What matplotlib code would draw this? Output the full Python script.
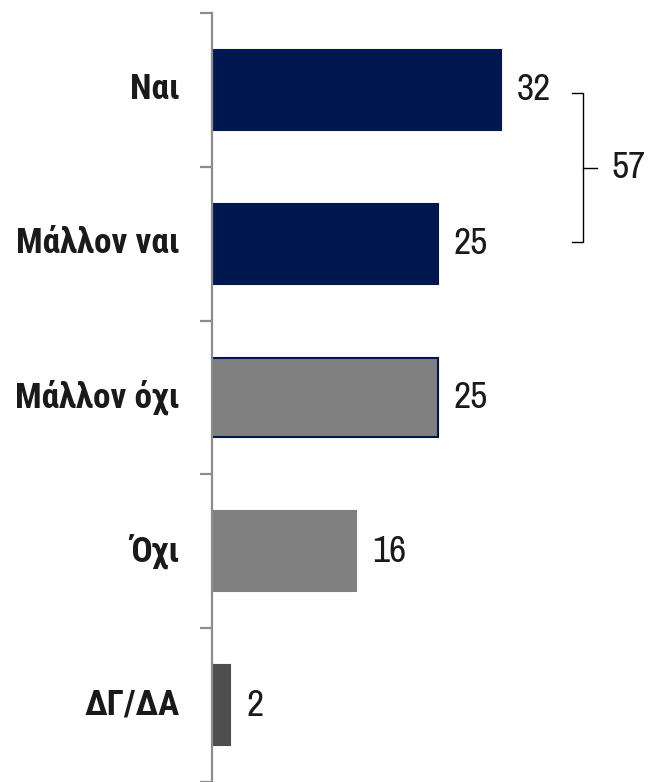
import matplotlib.pyplot as plt
from matplotlib import font_manager as fm
from matplotlib.ft2font import FT2Font

# data
categories = ['Ναι', 'Μάλλον ναι', 'Μάλλον όχι', 'Όχι', 'ΔΓ/ΔΑ']
values = [32, 25, 25, 16, 2]
bar_colors = ['#00174F', '#00174F', '#808080', '#808080', '#4D4D4D']
edge_colors = ['#00174F', '#00174F', '#00174F', '#808080', '#4D4D4D']

STRETCHES = ('condensed', 'semi-condensed', 'extra-condensed', 'ultra-condensed')


def has_chars(fname, chars):
    try:
        cmap = FT2Font(fname).get_charmap()
    except Exception:
        return False
    return all(ord(ch) in cmap for ch in chars if not ch.isspace())


def candidates(bold, chars):
    out = []
    for f in fm.fontManager.ttflist:
        narrowish = 'Narrow' in f.name or 'Condensed' in f.name or f.stretch in STRETCHES
        if not narrowish or 'Mono' in f.name or 'Serif' in f.name:
            continue
        w = f.weight if isinstance(f.weight, int) else (700 if 'bold' in str(f.weight) else 400)
        if bold and not 600 <= w <= 800:
            continue
        if not bold and w != 400:
            continue
        if 'italic' in f.style or 'oblique' in f.style:
            continue
        if has_chars(f.fname, chars):
            out.append((f, w))
    return out


fig = plt.figure(figsize=(6.64, 7.82), dpi=100)
ax = fig.add_axes([212 / 664, 0, 452 / 664, 769 / 782])
renderer = fig.canvas.get_renderer()


def text_width(fp, s):
    t = fig.text(0, 0, s, fontproperties=fp)
    wpx = t.get_window_extent(renderer).width
    t.remove()
    return wpx


# labels: pick the bold narrow face whose width best matches the reference
# ("Μάλλον ναι" is ~164 px wide at ~26 pt)
best = None
for f, w in candidates(True, ''.join(categories)):
    fp = fm.FontProperties(fname=f.fname, size=26)
    score = abs(text_width(fp, categories[1]) - 164) + abs(w - 700) * 0.05
    if best is None or score < best[0]:
        best = (score, fp)
if best is not None:
    lab_fp = best[1]
else:
    lab_fp = fm.FontProperties(family=['Liberation Sans', 'DejaVu Sans'], weight='bold', size=26)
lab_fp.set_size(min(27, 26 * 164 / text_width(lab_fp, categories[1])))

vc = candidates(False, '0123456789')
if vc:
    vc.sort(key=lambda fw: (0 if fw[0].stretch == 'condensed' else 1, fw[0].name))
    val_fp = fm.FontProperties(fname=vc[0][0].fname, size=27)
else:
    val_fp = fm.FontProperties(family='Liberation Sans', size=22)

y = list(range(len(categories)))
ax.barh(y, values, height=0.52, color=bar_colors, edgecolor=edge_colors, linewidth=1.5)

ax.set_xlim(0, 452 / 9.03)
ax.set_ylim(len(categories) - 0.5, -0.5)

for s in ['top', 'right', 'bottom']:
    ax.spines[s].set_visible(False)
ax.spines['left'].set_color('#8C8C8C')
ax.spines['left'].set_linewidth(1.6)
ax.set_xticks([])
ax.set_yticks([i - 0.5 for i in range(len(categories) + 1)])
ax.set_yticklabels([])
ax.tick_params(axis='y', length=8.6, width=1.6, color='#8C8C8C')

# category labels
for i, c in enumerate(categories):
    ax.annotate(c, (0, i), xytext=(-32, 0), textcoords='offset pixels',
                ha='right', va='center', fontproperties=lab_fp, color='#1A1A1A')

# value labels
for i, v in enumerate(values):
    ax.annotate(str(v), (v, i), xytext=(16, 0), textcoords='offset pixels',
                ha='left', va='center', fontproperties=val_fp, color='#1A1A1A')

# bracket for the top two bars
total = values[0] + values[1]
x0, x1, x2 = 39.9, 41.1, 42.6
ya, yb = 0.02, 0.99
ym = (ya + yb) / 2
ax.plot([x0, x1, x1, x0], [ya, ya, yb, yb], color='black', lw=1.0, clip_on=False)
ax.plot([x1, x2], [ym, ym], color='black', lw=1.0, clip_on=False)
ax.text(x2 + 1.6, ym, str(total), ha='left', va='center', fontproperties=val_fp, color='#1A1A1A')

fig.savefig('out.png', dpi=100)
